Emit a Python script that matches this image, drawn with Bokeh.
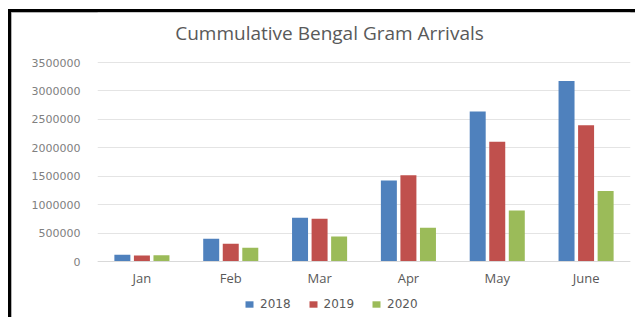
from bokeh.plotting import figure
from bokeh.models import (FactorRange, Range1d, FixedTicker, NumeralTickFormatter,
                          Legend, LegendItem, Label)
from bokeh.transform import dodge
from bokeh.embed import file_html
from bokeh.resources import INLINE

months = ["Jan", "Feb", "Mar", "Apr", "May", "June"]
years = ["2018", "2019", "2020"]
arr_2018 = [120000, 400000, 770000, 1425000, 2640000, 3175000]
arr_2019 = [105000, 312000, 752000, 1515000, 2105000, 2395000]
arr_2020 = [108000, 240000, 440000, 593000, 898000, 1238000]
y_ticks = [0, 500000, 1000000, 1500000, 2000000, 2500000, 3000000, 3500000]
title_text = "Cummulative Bengal Gram Arrivals"
colors = ["#4f81bd", "#c0504d", "#9bbb59"]

data = dict(month=months, y2018=arr_2018, y2019=arr_2019, y2020=arr_2020)

# the frame covers the whole chart height so title and legend sit inside it;
# the value axis spans 0..3.5M over 199 px, with 50 px above and 59 px below
y_max = 3500000
per_px = y_max / 199
y_top = y_max + 50 * per_px
y_bottom = -59 * per_px

p = figure(width=627, height=308, x_range=FactorRange(*months), y_range=Range1d(y_bottom, y_top),
           output_backend="svg", toolbar_location=None,
           min_border_left=86, min_border_right=8, min_border_top=0, min_border_bottom=0)
p.styles = {"margin-left": "8px", "margin-top": "9px",
            "border-top": "3px solid #000", "border-left": "3px solid #000",
            "box-shadow": "inset 1px 1px 0 #9a9a9a"}
p.outline_line_color = None
p.background_fill_color = "white"
p.border_fill_color = "white"

renderers = []
offsets = [-0.22, 0.0, 0.22]
for yr, off, col in zip(years, offsets, colors):
    r = p.vbar(x=dodge("month", off, range=p.x_range), top="y" + yr, width=0.18,
               source=data, fill_color=col, line_color=None)
    renderers.append(r)

title = Label(text=title_text, x=232, y=288, x_units="screen", y_units="screen",
              text_align="center", text_baseline="middle",
              text_font="Open Sans", text_font_size="19px", text_color="#595959")
p.add_layout(title)

p.xgrid.grid_line_color = None
p.ygrid.grid_line_color = "#e4e4e4"
p.ygrid.grid_line_width = 1

p.yaxis.ticker = FixedTicker(ticks=y_ticks)
p.yaxis.formatter = NumeralTickFormatter(format="0")
p.yaxis.axis_line_color = None
p.yaxis.major_tick_line_color = None
p.yaxis.minor_tick_line_color = None
p.yaxis.major_tick_out = 0
p.yaxis.major_label_standoff = 17
p.yaxis.major_label_text_font = "DejaVu Sans"
p.yaxis.major_label_text_font_size = "11px"
p.yaxis.major_label_text_color = "#808080"

p.xaxis.fixed_location = 0
p.xaxis.axis_line_color = "#d9d9d9"
p.xaxis.major_tick_line_color = None
p.xaxis.minor_tick_line_color = None
p.xaxis.major_tick_out = 0
p.xaxis.major_label_standoff = 7
p.xaxis.major_label_text_font = "Open Sans"
p.xaxis.major_label_text_font_size = "13px"
p.xaxis.major_label_text_color = "#595959"

legend = Legend(items=[LegendItem(label=yr, renderers=[r]) for yr, r in zip(years, renderers)],
                orientation="horizontal", location=(147, 9),
                glyph_width=10, glyph_height=8, label_standoff=6, spacing=17,
                padding=4, margin=0, border_line_color=None, background_fill_alpha=0,
                label_text_font="DejaVu Sans", label_text_font_size="12px",
                label_text_color="#595959", label_height=12)
p.add_layout(legend, "center")

open("out.html", "w").write(file_html(p, INLINE))
